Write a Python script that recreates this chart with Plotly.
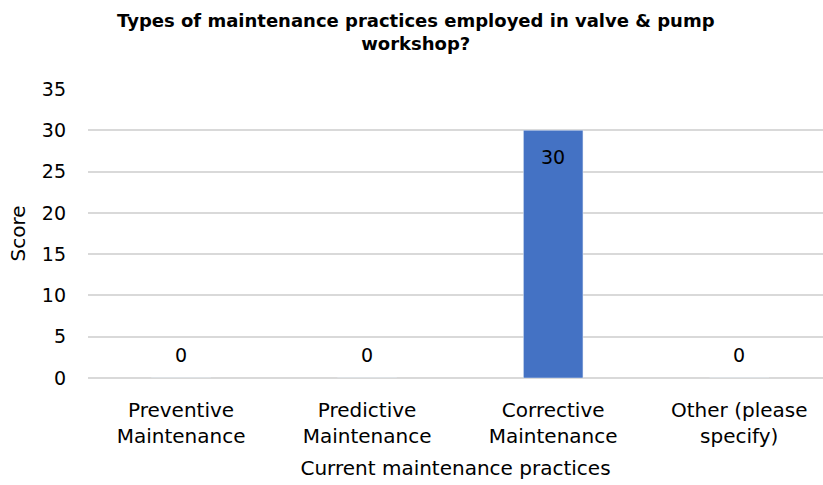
import plotly.graph_objects as go

categorias = ['Preventive<br>Maintenance', 'Predictive<br>Maintenance',
              'Corrective<br>Maintenance', 'Other (please<br>specify)']
scores = [0, 0, 30, 0]
y_ticks = [0, 5, 10, 15, 20, 25, 30, 35]

fonte = 'DejaVu Sans, Verdana, sans-serif'

W, H = 823, 485
M_L, M_T, M_B = 88, 89, 107
plot_w = W - M_L
plot_h = H - M_T - M_B

fig = go.Figure()

fig.add_trace(go.Bar(
    x=list(range(len(categorias))),
    y=scores,
    width=0.32,
    marker_color='#4472C4',
    hoverinfo='skip',
))

# rótulos de dados (estilo Excel)
for i, v in enumerate(scores):
    fig.add_annotation(
        x=i, y=v, text=str(v), showarrow=False,
        yanchor='middle', yshift=-27 if v > 0 else 23,
        font=dict(family=fonte, size=19, color='#000000'),
    )

# título como anotação
fig.add_annotation(
    text='<b>Types of maintenance practices employed in valve & pump<br>workshop?</b>',
    xref='paper', yref='paper',
    x=(416 - M_L) / plot_w, y=1 + (M_T - 8) / plot_h,
    xanchor='center', yanchor='top', showarrow=False,
    font=dict(family=fonte, size=18, color='#000000'),
)

fig.update_layout(
    width=W, height=H,
    margin=dict(l=M_L, r=0, t=M_T, b=M_B),
    plot_bgcolor='white', paper_bgcolor='white',
    showlegend=False,
    xaxis=dict(
        tickmode='array',
        tickvals=list(range(len(categorias))),
        ticktext=categorias,
        range=[-0.5, 3.45],
        showgrid=False, showline=False, zeroline=False,
        ticklabelstandoff=18,
        tickfont=dict(family=fonte, size=20, color='#000000'),
        title=dict(text='Current maintenance practices',
                   font=dict(family=fonte, size=20, color='#000000'),
                   standoff=13),
        automargin=False,
    ),
    yaxis=dict(
        range=[0, 35],
        tickvals=y_ticks,
        showgrid=True, gridcolor='#d9d9d9', gridwidth=1.5,
        zeroline=True, zerolinecolor='#d9d9d9', zerolinewidth=1.5,
        showline=False,
        ticklabelstandoff=21,
        tickfont=dict(family=fonte, size=19, color='#000000'),
        title=dict(text='Score',
                   font=dict(family=fonte, size=20, color='#000000'),
                   standoff=10),
        automargin=False,
    ),
)

fig.write_html(
    'out.html',
    config={'displayModeBar': False},
    post_script="document.body.style.margin='0';document.body.style.overflow='hidden';",
)
